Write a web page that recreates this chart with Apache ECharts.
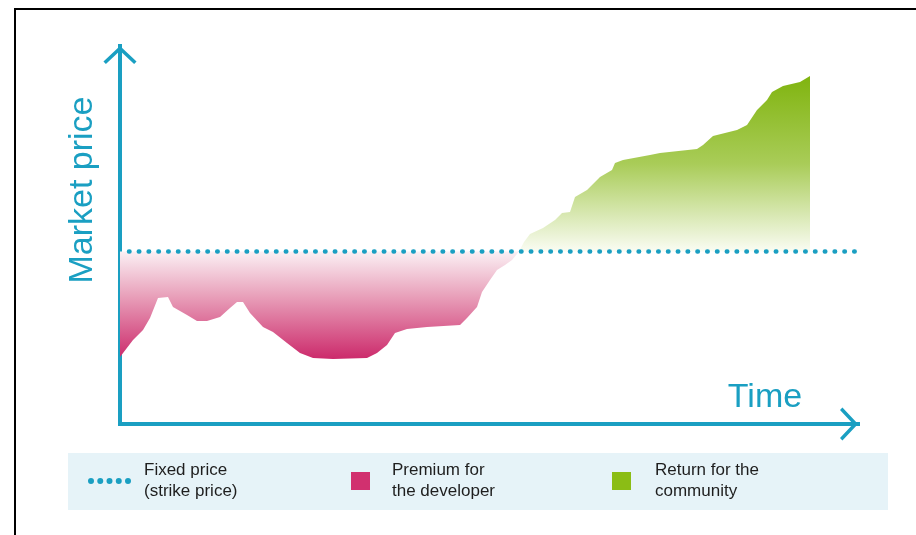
<!DOCTYPE html>
<html>
<head>
<meta charset="utf-8">
<script src="https://cdn.jsdelivr.net/npm/echarts@6/dist/echarts.min.js"></script>
<style>
html,body{margin:0;padding:0;background:#fff;}
#chart{width:916px;height:535px;}
</style>
</head>
<body>
<div id="chart"></div>
<script>
// ---- data (x = time units, y = market price units) ----
var strikePrice = 172.5;
var strikeSpan = [9, 737];
var premiumCurve = [
  [0,67],[13,84],[23,94],[30,106],[38,126],[48,127],[53,117],[67,109],[77,103],[87,103],
  [100,107],[110,116],[117,122],[123,122],[130,111],[143,97],[153,92],[167,81],[180,71],
  [193,66],[213,65],[247,66],[257,71],[267,79],[275,91],[287,95],[307,97],[340,99],
  [347,106],[357,117],[362,132],[370,144],[377,154],[385,159],[392,164],[399,172.5]
];
var returnCurve = [
  [399,172.5],[404,182],[410,190],[423,196],[435,204],[442,211],[450,212],[455,227],
  [467,234],[480,247],[492,254],[495,261],[503,264],[530,269],[540,271],[577,275],
  [583,279],[593,288],[617,294],[627,299],[637,314],[647,324],[652,332],[663,338],
  [680,342],[690,348]
];
var seriesNames = ['Fixed price', 'Premium', 'Return'];
var legendLabels = ['Fixed price\n(strike price)', 'Premium for\nthe developer', 'Return for the\ncommunity'];
var axisTitles = ['Market price', 'Time'];

var teal = '#1a9fc2';
var pink = '#d1306f';
var green = '#8bbd15';
var chevron = 'path://M17,0 L34,16 L31.5,18.5 L17,5 L2.5,18.5 L0,16 Z';
var dots = '';
for (var i = 0; i < 5; i++) {
  var cx = 3 + i * 9.25;
  dots += 'M' + (cx - 3) + ',3 A3,3 0 1,0 ' + (cx + 3) + ',3 A3,3 0 1,0 ' + (cx - 3) + ',3 Z ';
}

var chart = echarts.init(document.getElementById('chart'), null, {renderer: 'canvas'});
var legendText = {fontFamily: 'Arial, "Liberation Sans", sans-serif', fontSize: 17, color: '#1e1e1e', lineHeight: 21};
function mkLegend(idx, left, icon, w, h, color, padLeft) {
  return {
    left: left, top: 460, padding: 0, orient: 'horizontal',
    itemWidth: w, itemHeight: h,
    selectedMode: false,
    data: [{name: seriesNames[idx], icon: icon, itemStyle: {color: color}}],
    formatter: function () { return legendLabels[idx]; },
    textStyle: Object.assign({padding: [0, 0, 0, padLeft]}, legendText)
  };
}

var option = {
  animation: false,
  backgroundColor: '#ffffff',
  grid: {left: 120, right: 58, top: 46, bottom: 111, containLabel: false},
  xAxis: {
    type: 'value', min: 0, max: 738,
    axisLine: {show: true, onZero: false, symbol: ['none', chevron], symbolSize: [34, 18], symbolOffset: [0, -9],
      lineStyle: {color: teal, width: 4, cap: 'square'}},
    axisTick: {show: false}, axisLabel: {show: false}, splitLine: {show: false}
  },
  yAxis: {
    type: 'value', min: 0, max: 378,
    axisLine: {show: true, onZero: false, symbol: ['none', chevron], symbolSize: [34, 18], symbolOffset: [0, -9],
      lineStyle: {color: teal, width: 4, cap: 'square'}},
    axisTick: {show: false}, axisLabel: {show: false}, splitLine: {show: false}
  },
  legend: [
    mkLegend(0, 88, 'path://' + dots, 43, 6, teal, 8),
    mkLegend(1, 351, 'rect', 19, 18, pink, 17),
    mkLegend(2, 612, 'rect', 19, 18, green, 19)
  ],
  graphic: [
    {type: 'polyline', z: -10, silent: true, shape: {points: [[15, 540], [15, 9], [920, 9]]},
      style: {stroke: '#000', lineWidth: 2, fill: null}},
    {type: 'rect', z: -10, silent: true, shape: {x: 68, y: 453, width: 820, height: 57},
      style: {fill: '#e6f3f8'}},
    {type: 'text', x: 83, y: 190, rotation: Math.PI / 2, silent: true,
      style: {text: axisTitles[0], fill: teal, font: '34px Arial, "Liberation Sans", sans-serif', align: 'center', verticalAlign: 'middle'}},
    {type: 'text', x: 765, y: 398, silent: true,
      style: {text: axisTitles[1], fill: teal, font: '34px Arial, "Liberation Sans", sans-serif', align: 'center', verticalAlign: 'middle'}}
  ],
  series: [
    {
      name: seriesNames[1], type: 'line', data: premiumCurve, showSymbol: false, symbol: 'none',
      itemStyle: {color: pink}, lineStyle: {width: 0},
      areaStyle: {origin: strikePrice, opacity: 1,
        color: new echarts.graphic.LinearGradient(0, 0, 0, 1, [
          {offset: 0, color: '#fbf0f4'}, {offset: 0.4, color: '#e9a3bc'}, {offset: 1, color: '#cc2a6b'}])}
    },
    {
      name: seriesNames[2], type: 'line', data: returnCurve, showSymbol: false, symbol: 'none',
      itemStyle: {color: green}, lineStyle: {width: 0},
      areaStyle: {origin: strikePrice, opacity: 1,
        color: new echarts.graphic.LinearGradient(0, 0, 0, 1, [
          {offset: 0, color: '#80b40f'}, {offset: 0.5, color: '#a9cc58'}, {offset: 1, color: '#fafcf3'}])}
    },
    {
      name: seriesNames[0], type: 'line', showSymbol: false, symbol: 'none',
      data: [[strikeSpan[0], strikePrice], [strikeSpan[1], strikePrice]],
      itemStyle: {color: teal},
      lineStyle: {color: teal, width: 4.5, type: [0.5, 9.3], cap: 'round'}
    }
  ]
};
chart.setOption(option);
</script>
</body>
</html>
